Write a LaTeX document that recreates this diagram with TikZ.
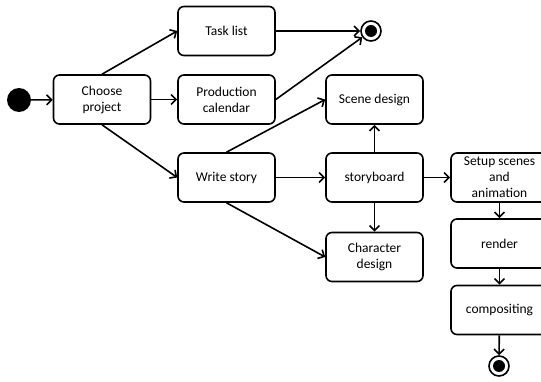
\documentclass[tikz,border=0pt]{standalone}
\usepackage{fontspec}
\setmainfont{Carlito}
\usetikzlibrary{arrows.meta}
\begin{document}
\begin{tikzpicture}[x=1pt,y=-1pt,
  activity/.style={draw, line width=1.6pt, rounded corners=6pt,
    minimum width=97pt, minimum height=49pt, inner sep=1pt, align=center,
    font=\fontsize{13.5}{16}\selectfont},
  flow/.style={line width=1.6pt, -{Straight Barb[length=5pt,width=10pt]}},
  initial/.style={circle, fill=black, minimum size=24pt, inner sep=0pt},
  final/.style={circle, draw, line width=1.6pt, fill=white, minimum size=20pt, inner sep=0pt,
    path picture={\fill[black] (path picture bounding box.center) circle (6pt);}}]
\useasboundingbox (0,0) rectangle (541,382);

% initial state
\node[initial] (start) at (19,100) {};

% first column
\node[activity] (choose) at (102,99.5) {Choose\\project};

% second column
\node[activity] (tasks) at (226.5,31) {Task list};
\node[activity] (calendar) at (226.5,99.5) {Production\\calendar};
\node[activity] (write) at (226.5,177.5) {Write story};

% third column
\node[activity] (scene) at (374.5,99.5) {Scene design};
\node[activity] (board) at (374.5,177.5) {storyboard};
\node[activity] (character) at (374.5,257) {Character\\design};

% production pipeline
\node[activity] (setup) at (499.5,177.5) {Setup scenes\\and\\animation};
\node[activity] (render) at (499.5,243.5) {render};
\node[activity] (comp) at (499.5,310) {compositing};

% final states
\node[final] (endtop) at (371,31) {};
\node[final] (endbottom) at (499,366) {};

% transitions
\draw[flow] (start) -- (choose);
\draw[flow] (choose.north) -- (tasks.west);
\draw[flow] (choose) -- (calendar);
\draw[flow] (choose.south) -- (write.west);
\draw[flow] (tasks) -- (endtop);
\draw[flow] (calendar.east) -- (endtop);
\draw[flow] (write.north) -- (scene.west);
\draw[flow] (write) -- (board);
\draw[flow] (write.south) -- (character.west);
\draw[flow] (board) -- (scene);
\draw[flow] (board) -- (character);
\draw[flow] (board) -- (setup);
\draw[flow] (setup) -- (render);
\draw[flow] (render) -- (comp);
\draw[flow] (comp) -- (endbottom);
\end{tikzpicture}
\end{document}
